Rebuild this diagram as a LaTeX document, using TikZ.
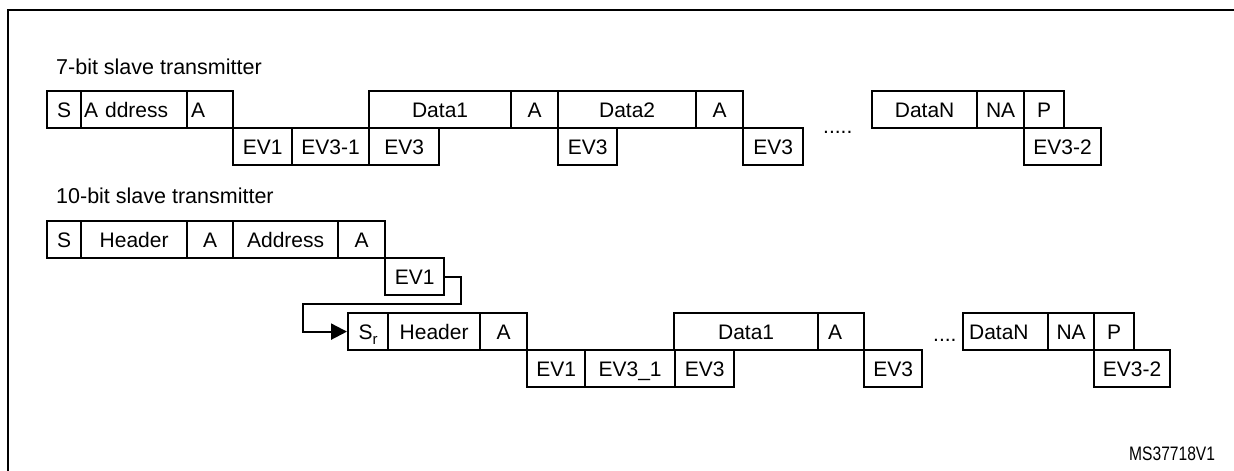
\documentclass[tikz,border=0pt]{standalone}
\usepackage{fontspec}
\setmainfont{Liberation Sans}
\newfontfamily\msfont{Liberation Sans}[FakeStretch=0.8]
\usetikzlibrary{arrows.meta}
\begin{document}
\begin{tikzpicture}[x=1pt,y=-1pt,
  every node/.style={font=\fontsize{21}{25}\selectfont},
  cell/.style={draw, line width=2.2pt, anchor=north west, inner sep=0pt,
    minimum height=37pt, minimum width=#1, text height=16.5pt, text depth=0pt},
  lbl/.style={anchor=base west, inner sep=0pt, font=\fontsize{21.5}{25}\selectfont},
  conn/.style={line width=2.2pt, -{Triangle[length=16pt,width=16pt]}},
  frame/.style={line width=2.5pt}]
\useasboundingbox (0,0) rectangle (1234,471);
\draw[frame] (8,471) -- (8,10) -- (1234,10);

% labels
\node[lbl] (lab7) at (56,74) {7-bit slave transmitter};
\node[lbl] (lab10) at (56,203) {10-bit slave transmitter};
\node[anchor=base west, inner sep=0pt, font=\msfont\fontsize{19.5}{24}\selectfont] (ms) at (1129,460) {MS37718V1};

% row 1
\node[cell=34] (s1) at (46,90) {S};
\node[cell=106, align=left, text width=100pt, inner xsep=3pt] (addr1) at (80,90) {A ddress};
\node[cell=46, align=left, text width=38pt, inner xsep=4pt] (a1) at (186,90) {A};
\node[cell=142] (d11) at (368,90) {Data1};
\node[cell=47] (a12) at (510,90) {A};
\node[cell=138] (d12) at (557,90) {Data2};
\node[cell=47] (a13) at (695,90) {A};
\node[cell=105] (dn1) at (871,90) {DataN};
\node[cell=47] (na1) at (976,90) {NA};
\node[cell=40] (p1) at (1023,90) {P};
\node[cell=59] (ev11) at (232,127) {EV1};
\node[cell=77] (ev311) at (291,127) {EV3-1};
\node[cell=70] (ev3a) at (368,127) {EV3};
\node[cell=59] (ev3b) at (557,127) {EV3};
\node[cell=60] (ev3c) at (742,127) {EV3};
\node[cell=77] (ev321) at (1023,127) {EV3-2};
\node[anchor=base west, inner sep=0pt] (dots1) at (823,133) {.....};

% row 2
\node[cell=34] (s2) at (46,220) {S};
\node[cell=106] (h2) at (80,220) {Header};
\node[cell=46] (a21) at (186,220) {A};
\node[cell=105] (addr2) at (232,220) {Address};
\node[cell=47] (a22) at (337,220) {A};
\node[cell=59] (ev12) at (384,257) {EV1};

% row 3
\node[cell=40] (sr) at (347,312) {S\raisebox{-5pt}{\fontsize{15}{15}\selectfont r}};
\node[cell=92] (h3) at (387,312) {Header};
\node[cell=47] (a31) at (479,312) {A};
\node[cell=144] (d31) at (673,312) {Data1};
\node[cell=46, align=left, text width=26pt, inner xsep=10pt] (a32) at (817,312) {A};
\node[cell=85, align=left, text width=73pt, inner xsep=6pt] (dn3) at (962,312) {DataN};
\node[cell=46] (na3) at (1047,312) {NA};
\node[cell=40] (p3) at (1093,312) {P};
\node[cell=58] (ev13) at (526,349) {EV1};
\node[cell=90] (ev313) at (584,349) {EV3\_1};
\node[cell=59] (ev3d) at (674,349) {EV3};
\node[cell=58] (ev3e) at (863,349) {EV3};
\node[cell=76] (ev323) at (1093,349) {EV3-2};
\node[anchor=base west, inner sep=0pt] (dots3) at (933,341) {....};

% connector
\coordinate (c1) at (461,304);
\coordinate (c2) at (303,304);
\draw[conn] (ev12.east) -| (c1) -- (c2) |- (sr.west);
\end{tikzpicture}
\end{document}
